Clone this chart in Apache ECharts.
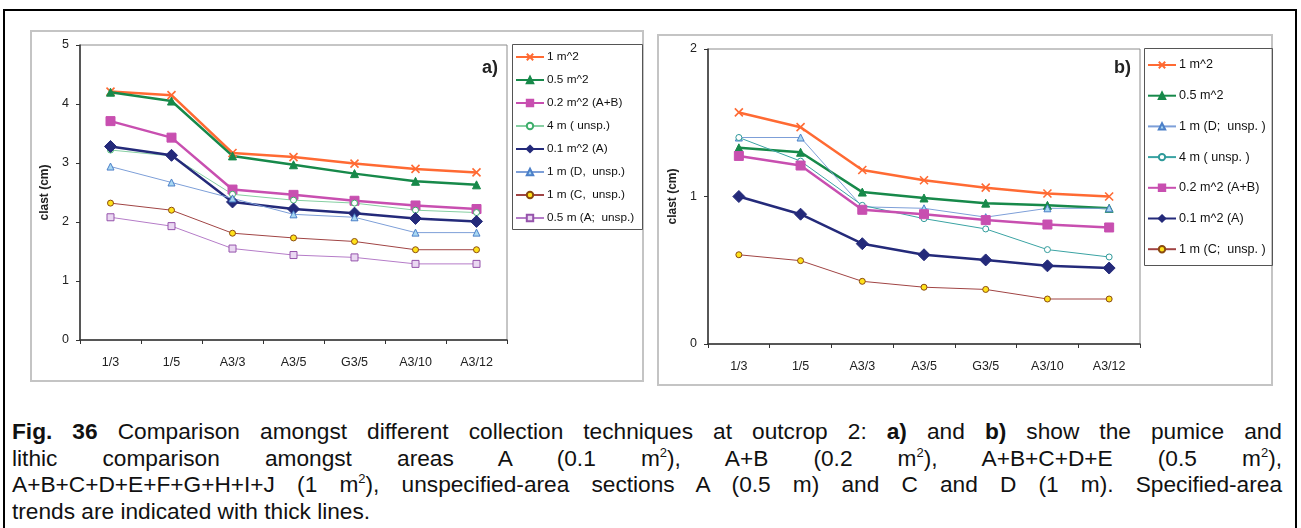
<!DOCTYPE html>
<html>
<head>
<meta charset="utf-8">
<title>Fig. 36 clast comparison</title>
<script src="https://cdn.jsdelivr.net/npm/echarts@6/dist/echarts.min.js"></script>
<style>
  body { margin: 0; width: 1301px; height: 528px; background: #fff; position: relative; overflow: hidden;
         font-family: "Liberation Sans", Arial, sans-serif; }
  .abs { position: absolute; box-sizing: border-box; }
  #outer { left: 3px; top: 9px; width: 1294px; height: 600px; border: 2px solid #000; }
  .frame { border: 2px solid #c4c4c4; }
  #frameA { left: 30px; top: 30px; width: 614px; height: 352px; }
  #frameB { left: 657px; top: 34px; width: 616px; height: 352px; }
  #chartA { left: 30px; top: 30px; width: 614px; height: 352px; }
  #chartB { left: 657px; top: 34px; width: 616px; height: 352px; }
  #caption { left: 12px; top: 418px; width: 1270px; font-size: 22.7px; line-height: 26.7px; color: #111; }
  #caption div { white-space: nowrap; }
  #caption .j { text-align: justify; text-align-last: justify; white-space: normal; }
  sup { font-size: 13px; line-height: 0; vertical-align: 9px; }
</style>
</head>
<body>
<div id="outer" class="abs"></div>
<div id="frameA" class="abs frame"></div>
<div id="frameB" class="abs frame"></div>
<div id="chartA" class="abs"></div>
<div id="chartB" class="abs"></div>
<div id="caption" class="abs">
  <div class="j"><b>Fig. 36</b> Comparison amongst different collection techniques at outcrop 2: <b>a)</b> and <b>b)</b> show the pumice and</div>
  <div class="j">lithic comparison amongst areas A (0.1 m<sup>2</sup>), A+B (0.2 m<sup>2</sup>), A+B+C+D+E (0.5 m<sup>2</sup>),</div>
  <div class="j">A+B+C+D+E+F+G+H+I+J (1 m<sup>2</sup>), unspecified-area sections A (0.5 m) and C and D (1 m). Specified-area</div>
  <div>trends are indicated with thick lines.</div>
</div>
<script type="text/javascript">
// categories (sampling sections)
var categories = ['1/3', '1/5', 'A3/3', 'A3/5', 'G3/5', 'A3/10', 'A3/12'];

// a) pumice, clast (cm)
var a1m2  = [4.21, 4.15, 3.17, 3.10, 2.99, 2.90, 2.84];
var a05m2 = [4.20, 4.05, 3.12, 2.97, 2.82, 2.69, 2.63];
var a02m2 = [3.71, 3.43, 2.55, 2.46, 2.36, 2.28, 2.22];
var a4m   = [3.22, 3.12, 2.47, 2.37, 2.32, 2.20, 2.16];
var a01m2 = [3.28, 3.13, 2.34, 2.22, 2.15, 2.06, 2.01];
var a1mD  = [2.94, 2.67, 2.40, 2.13, 2.08, 1.82, 1.82];
var a1mC  = [2.32, 2.20, 1.81, 1.73, 1.67, 1.53, 1.53];
var a05mA = [2.08, 1.93, 1.55, 1.44, 1.40, 1.29, 1.29];

// b) lithic, clast (cm)
var b1m2  = [1.57, 1.47, 1.18, 1.11, 1.06, 1.02, 1.00];
var b05m2 = [1.33, 1.30, 1.03, 0.99, 0.955, 0.94, 0.92];
var b1mD  = [1.40, 1.40, 0.93, 0.92, 0.86, 0.92, 0.92];
var b4m   = [1.40, 1.24, 0.94, 0.85, 0.78, 0.64, 0.59];
var b02m2 = [1.275, 1.21, 0.91, 0.88, 0.84, 0.81, 0.79];
var b01m2 = [1.00, 0.88, 0.68, 0.605, 0.57, 0.53, 0.515];
var b1mC  = [0.605, 0.565, 0.425, 0.385, 0.37, 0.305, 0.305];

var yTicksA = { min: 0, max: 5, interval: 1 };
var yTicksB = { min: 0, max: 2, interval: 1 };

var CROSS = 'path://M0,0L10,10M0,10L10,0';
var FONT = '"Liberation Sans", Arial, sans-serif';

// series styles
function sLine(name, data, color, width, symbol, size, fill, border) {
    return {
        name: name,
        type: 'line',
        data: data,
        symbol: symbol,
        symbolSize: size,
        showAllSymbol: true,
        animation: false,
        lineStyle: { color: color, width: width },
        itemStyle: { color: fill, borderColor: border, borderWidth: symbol === CROSS ? 1.6 : 1 }
    };
}

function makeOption(cfg) {
    return {
        animation: false,
        grid: {
            left: cfg.grid[0], top: cfg.grid[1], width: cfg.grid[2], height: cfg.grid[3],
            show: true, borderColor: '#8c8c8c', borderWidth: 1, backgroundColor: 'transparent'
        },
        legend: {
            orient: 'vertical',
            left: cfg.legend[0], top: cfg.legend[1],
            itemGap: cfg.legend[2],
            itemWidth: 28, itemHeight: 8,
            padding: 0,
            selectedMode: false,
            textStyle: { fontSize: cfg.legend[3], fontFamily: FONT, color: '#111', lineHeight: 14, padding: [0, 0, 0, -2] },
            data: cfg.series.map(function (s) { return s.name; })
        },
        graphic: [
            { type: 'rect', shape: { x: cfg.box[0] + 0.5, y: cfg.box[1] + 0.5, width: cfg.box[2], height: cfg.box[3] },
              style: { fill: 'none', stroke: '#555', lineWidth: 1 } },
            { type: 'text', x: cfg.tag[0], y: cfg.tag[1],
              style: { text: cfg.tag[2], font: 'bold 18px ' + FONT, fill: '#222', align: 'right', verticalAlign: 'middle' } }
        ],
        xAxis: {
            type: 'category',
            data: categories,
            boundaryGap: true,
            axisLine: { lineStyle: { color: '#333', width: 1.5 } },
            axisTick: { show: true, length: 4, lineStyle: { color: '#333' } },
            axisLabel: { fontSize: 12.5, fontFamily: FONT, color: '#222', margin: 16 },
            splitLine: { show: false }
        },
        yAxis: {
            type: 'value',
            min: cfg.y.min, max: cfg.y.max, interval: cfg.y.interval,
            name: 'clast (cm)',
            nameLocation: 'middle',
            nameGap: 24,
            nameTextStyle: { fontSize: 12, fontWeight: 'bold', fontFamily: FONT, color: '#222' },
            axisLine: { show: true, lineStyle: { color: '#333', width: 1.5 } },
            axisTick: { show: true, length: 4, lineStyle: { color: '#333' } },
            axisLabel: { fontSize: 12.5, fontFamily: FONT, color: '#222', margin: 11 },
            splitLine: { show: false }
        },
        series: cfg.series
    };
}

var seriesA = [
    sLine('1 m^2', a1m2, '#ff6a33', 2.5, CROSS, 8, '#ff6a33', '#ff6a33'),
    sLine('0.5 m^2', a05m2, '#17894a', 2.5, 'triangle', 8, '#17894a', '#17894a'),
    sLine('0.2 m^2 (A+B)', a02m2, '#c84fb0', 2.5, 'rect', 9, '#c84fb0', '#c84fb0'),
    sLine('4 m ( unsp.)', a4m, '#86cfa2', 1, 'circle', 6, '#ffffff', '#3fae6c'),
    sLine('0.1 m^2 (A)', a01m2, '#242a7a', 2.5, 'diamond', 12, '#242a7a', '#242a7a'),
    sLine('1 m (D,  unsp.)', a1mD, '#7d9fd8', 1, 'triangle', 7, '#a9d8f2', '#4b7fc8'),
    sLine('1 m (C,  unsp.)', a1mC, '#a04444', 1, 'circle', 6, '#ffe21a', '#8a4a10'),
    sLine('0.5 m (A;  unsp.)', a05mA, '#b57cc8', 1, 'rect', 7, '#ead8f2', '#9553ab')
];

var seriesB = [
    sLine('1 m^2', b1m2, '#ff6a33', 2.5, CROSS, 8, '#ff6a33', '#ff6a33'),
    sLine('0.5 m^2', b05m2, '#17894a', 2.5, 'triangle', 8, '#17894a', '#17894a'),
    sLine('1 m (D;  unsp. )', b1mD, '#7d9fd8', 1, 'triangle', 7, '#a9d8f2', '#4b7fc8'),
    sLine('4 m ( unsp. )', b4m, '#3aa3a3', 1, 'circle', 6, '#ffffff', '#2f9a9a'),
    sLine('0.2 m^2 (A+B)', b02m2, '#c84fb0', 2.5, 'rect', 9, '#c84fb0', '#c84fb0'),
    sLine('0.1 m^2 (A)', b01m2, '#242a7a', 2.5, 'diamond', 12, '#242a7a', '#242a7a'),
    sLine('1 m (C;  unsp. )', b1mC, '#a04444', 1, 'circle', 6, '#ffe21a', '#8a4a10')
];

var chartA = echarts.init(document.getElementById('chartA'));
chartA.setOption(makeOption({
    grid: [50, 15, 427, 295],
    legend: [485, 20, 9, 11.8],
    box: [482, 14, 130, 185],
    tag: [468, 38, 'a)'],
    y: yTicksA,
    series: seriesA
}));

var chartB = echarts.init(document.getElementById('chartB'));
chartB.setOption(makeOption({
    grid: [51, 15, 432, 295],
    legend: [490, 24, 16.7, 12.6],
    box: [487, 14, 128, 217],
    tag: [474, 34, 'b)'],
    y: yTicksB,
    series: seriesB
}));
</script>
</body>
</html>
